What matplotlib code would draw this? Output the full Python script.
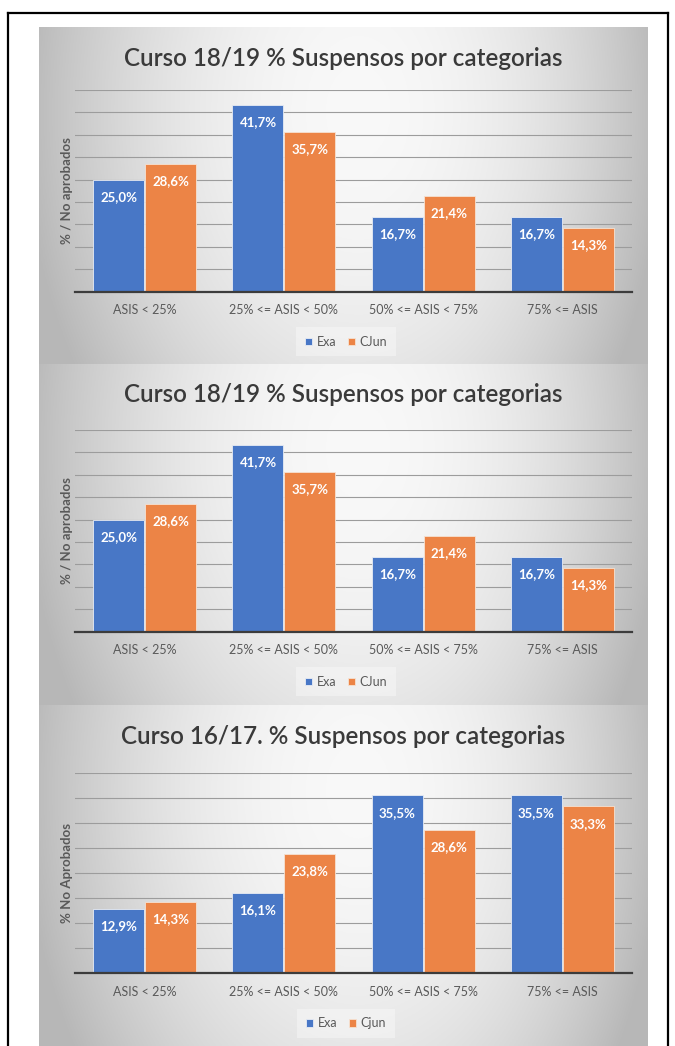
import matplotlib
matplotlib.use("Agg")
import matplotlib.pyplot as plt
from matplotlib.lines import Line2D
import numpy as np

# data
categorias = ["ASIS < 25%", "25% <= ASIS < 50%", "50% <= ASIS < 75%", "75% <= ASIS"]

exa_1819 = [25.0, 41.7, 16.7, 16.7]
cjun_1819 = [28.6, 35.7, 21.4, 14.3]

exa_1617 = [12.9, 16.1, 35.5, 35.5]
cjun_1617 = [14.3, 23.8, 28.6, 33.3]

titulos = ["Curso 18/19 % Suspensos por categorias",
           "Curso 18/19 % Suspensos por categorias",
           "Curso 16/17. % Suspensos por categorias"]
ylabels = ["% / No aprobados", "% / No aprobados", "% No Aprobados"]
leyendas = [("Exa", "CJun"), ("Exa", "CJun"), ("Exa", "Cjun")]

W, H = 675, 1046
FONT = "Lato"
BLUE = "#4877c6"
ORANGE = "#ec8446"
GREY_TXT = "#595959"


def rect(x0, y0, x1, y1):
    """pixel box (top-left origin) -> figure fraction rect"""
    return [x0 / W, 1 - y1 / H, (x1 - x0) / W, (y1 - y0) / H]


def fondo(fig, y0, y1):
    """grey gradient behind one panel"""
    ax = fig.add_axes(rect(39, y0, 648, y1), zorder=0)
    nx, ny = 300, 160
    xx, yy = np.meshgrid(np.linspace(-1, 1, nx), np.linspace(0, 1, ny))
    r2 = ((xx - 0.05) / 1.0) ** 2 + ((yy - 0.25) / 1.3) ** 2
    light = 0.975 - 0.21 * r2
    light = light - 0.04 * np.clip(xx, 0, 1) ** 3
    light = np.clip(light, 0.72, 0.98)
    ax.imshow(np.dstack([light, light, light]), aspect="auto",
              extent=(0, 1, 0, 1), origin="upper")
    ax.set_axis_off()


def panel(fig, p_top, p_bot, ax_top, ax_bot, ymax, exa, cjun,
          titulo, ylabel, leyenda):
    fondo(fig, p_top, p_bot)

    ax = fig.add_axes(rect(75, ax_top, 632, ax_bot), zorder=2)
    ax.set_facecolor("none")
    x = np.arange(len(categorias))
    w = 0.366
    b1 = ax.bar(x - 0.186, exa, w, color=BLUE, edgecolor="#e8ecf4",
                linewidth=0.6, zorder=3, label=leyenda[0])
    b2 = ax.bar(x + 0.186, cjun, w, color=ORANGE, edgecolor="#f6e2d2",
                linewidth=0.6, zorder=3, label=leyenda[1])

    for bars, vals in ((b1, exa), (b2, cjun)):
        for rct, v in zip(bars, vals):
            ax.annotate(("%.1f%%" % v).replace(".", ","),
                        (rct.get_x() + rct.get_width() / 2, v),
                        xytext=(0, -12.5), textcoords="offset points",
                        ha="center", va="center", color="white",
                        fontsize=9.5, fontweight="bold", family=FONT, zorder=4)

    ax.set_xlim(-0.5, len(categorias) - 0.5)
    ax.set_ylim(0, ymax)
    ax.set_yticks(np.arange(5, ymax + 1, 5))
    ax.yaxis.grid(True, color="#9c9c9c", linewidth=0.8, zorder=1)
    ax.tick_params(axis="y", length=0, labelleft=False)
    ax.tick_params(axis="x", length=0, pad=9, labelsize=9, labelcolor=GREY_TXT)
    ax.set_xticks(x)
    ax.set_xticklabels(categorias, family=FONT)
    for s in ("top", "right", "left"):
        ax.spines[s].set_visible(False)
    ax.spines["bottom"].set_color("#3c3c3c")
    ax.spines["bottom"].set_linewidth(1.6)
    ax.spines["bottom"].set_zorder(5)

    fig.text(66.7 / W, 1 - (ax_top + ax_bot) / 2 / H, ylabel, rotation=90,
             ha="center", va="center", fontsize=9.5, fontweight="bold",
             color=GREY_TXT, family=FONT)

    fig.text(343 / W, 1 - (p_top + 31) / H, titulo, ha="center", va="center",
             fontsize=17.5, fontweight="semibold", color="#3a3a3a", family=FONT)

    leg = ax.legend(loc="center", bbox_to_anchor=(346 / W, 1 - (ax_bot + 50) / H),
                    bbox_transform=fig.transFigure, ncol=2, frameon=True,
                    handlelength=0.55, handleheight=0.55,
                    handletextpad=0.4, columnspacing=0.9, borderpad=0.7,
                    prop={"family": FONT, "size": 9})
    leg.get_frame().set_facecolor("white")
    leg.get_frame().set_alpha(0.35)
    leg.get_frame().set_edgecolor("none")
    leg.get_frame().set_boxstyle("square", pad=0.0)
    for t in leg.get_texts():
        t.set_color(GREY_TXT)


fig = plt.figure(figsize=(W / 100, H / 100), dpi=100)
fig.patch.set_facecolor("white")

panel(fig, 27, 364, 90, 291.7, 45, exa_1819, cjun_1819,
      titulos[0], ylabels[0], leyendas[0])
panel(fig, 364, 705, 430, 631.7, 45, exa_1819, cjun_1819,
      titulos[1], ylabels[1], leyendas[1])
panel(fig, 705, 1046, 772.7, 973.3, 40, exa_1617, cjun_1617,
      titulos[2], ylabels[2], leyendas[2])

# black frame around the screenshots (bottom edge is cut off)
for xs, ys in (([8, 8], [13, H]), ([8, 668], [13, 13]), ([668, 668], [13, H])):
    fig.add_artist(Line2D([x / W for x in xs], [1 - y / H for y in ys],
                          color="black", linewidth=1.6, zorder=10))

plt.savefig("out.png", dpi=100)
